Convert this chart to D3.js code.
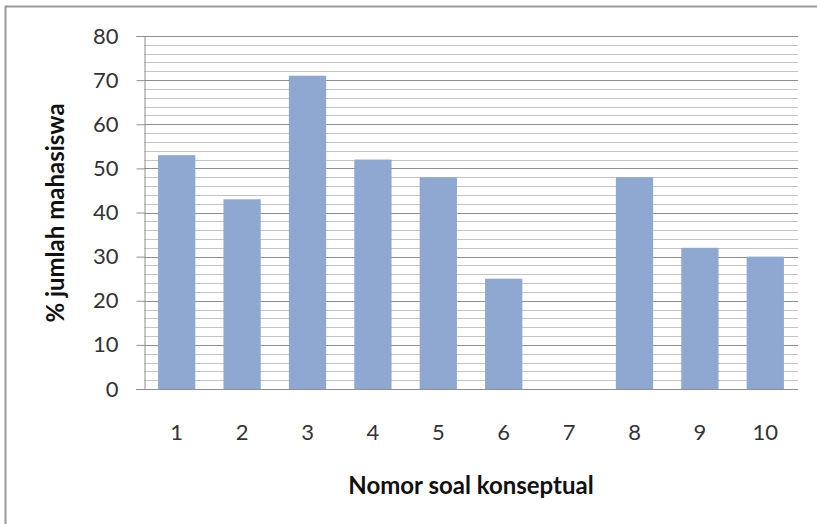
<!DOCTYPE html>
<html>
<head>
<meta charset="utf-8">
<script src="https://cdn.jsdelivr.net/npm/d3@7"></script>
<style>
  html, body { margin: 0; padding: 0; background: #fff; }
  svg { display: block; font-family: Lato, "Open Sans", sans-serif; }
</style>
</head>
<body>
<svg id="chart"></svg>
<script>
const WIDTH = 817;
const HEIGHT = 524;

const categories = ["1", "2", "3", "4", "5", "6", "7", "8", "9", "10"];
const values = [53, 43, 71, 52, 48, 25, 0, 48, 32, 30];
const yTicks = [0, 10, 20, 30, 40, 50, 60, 70, 80];

const plot = { left: 144, right: 798, top: 36, bottom: 389 };

const svg = d3.select("#chart")
  .attr("width", WIDTH)
  .attr("height", HEIGHT);

// outer frame (right/bottom edges fall outside the picture)
svg.append("rect")
  .attr("x", 5.5).attr("y", 6.5)
  .attr("width", WIDTH + 10).attr("height", HEIGHT + 10)
  .attr("fill", "none")
  .attr("stroke", "#9a9a9a")
  .attr("stroke-width", 2);

const x = d3.scaleBand()
  .domain(categories)
  .range([plot.left, plot.right])
  .paddingInner(0.43)
  .paddingOuter(0.215);

const y = d3.scaleLinear().domain([0, 80]).range([plot.bottom, plot.top]);

// minor gridlines every 2
svg.append("g")
  .selectAll("line")
  .data(d3.range(2, 80, 2).filter(v => v % 10 !== 0))
  .join("line")
  .attr("x1", plot.left).attr("x2", plot.right)
  .attr("y1", d => Math.round(y(d)) + 0.5).attr("y2", d => Math.round(y(d)) + 0.5)
  .attr("stroke", "#c4c4c4");

// major gridlines
svg.append("g")
  .selectAll("line")
  .data(yTicks.filter(v => v > 0))
  .join("line")
  .attr("x1", plot.left).attr("x2", plot.right)
  .attr("y1", d => Math.round(y(d)) + 0.5).attr("y2", d => Math.round(y(d)) + 0.5)
  .attr("stroke", "#8f8f8f");

// bars
svg.append("g")
  .selectAll("rect")
  .data(values.map((v, i) => ({ cat: categories[i], v })))
  .join("rect")
  .attr("x", d => x(d.cat))
  .attr("width", x.bandwidth())
  .attr("y", d => y(d.v))
  .attr("height", d => y(0) - y(d.v))
  .attr("fill", "#8fa8d1");

// y axis
const yAxis = svg.append("g")
  .attr("transform", `translate(${plot.left + 0.5},0)`)
  .call(d3.axisLeft(y).tickValues(yTicks).tickSize(8).tickPadding(18));
yAxis.select(".domain").attr("stroke", "#8f8f8f");
yAxis.selectAll(".tick line").attr("stroke", "#8f8f8f");
yAxis.selectAll(".tick text")
  .attr("fill", "#333")
  .style("font-size", "22px")
  .style("font-family", "Lato, sans-serif");

// x axis
const xAxis = svg.append("g")
  .attr("transform", `translate(0,${plot.bottom + 0.5})`)
  .call(d3.axisBottom(x).tickSize(0));
xAxis.select(".domain").attr("stroke", "#8f8f8f").attr("d", `M${plot.left - 8},0H${plot.right}`);
xAxis.selectAll(".tick text")
  .attr("y", 50)
  .attr("dy", null)
  .attr("fill", "#333")
  .style("font-size", "22px")
  .style("font-family", "Lato, sans-serif");

// titles
svg.append("text")
  .attr("x", 471).attr("y", 494)
  .attr("text-anchor", "middle")
  .style("font-size", "24px")
  .style("font-weight", "bold")
  .attr("fill", "#111")
  .text("Nomor soal konseptual");

svg.append("text")
  .attr("transform", "translate(64,213) rotate(-90)")
  .attr("text-anchor", "middle")
  .style("font-size", "24px")
  .style("font-weight", "bold")
  .attr("fill", "#111")
  .text("% jumlah mahasiswa");
</script>
</body>
</html>
